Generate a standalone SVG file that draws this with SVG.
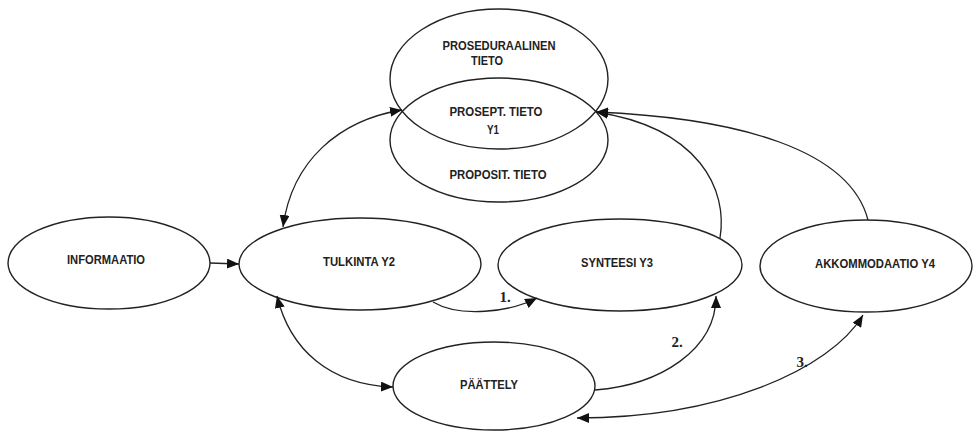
<svg xmlns="http://www.w3.org/2000/svg" width="973" height="431" viewBox="0 0 973 431">
<style>
.n{fill:none;stroke:#222;stroke-width:1.4}
.c{fill:none;stroke:#222;stroke-width:1.3}
.t{font-family:"Liberation Sans",Arial,sans-serif;font-weight:bold;font-size:13px;fill:#222;text-anchor:middle}
.l{font-family:"Liberation Serif","Times New Roman",serif;font-weight:bold;font-size:15px;fill:#222;text-anchor:middle}
</style>
<defs>
<marker id="a" viewBox="0 0 12 10" refX="12" refY="5" markerWidth="12" markerHeight="10" markerUnits="userSpaceOnUse" orient="auto-start-reverse">
<path d="M0,0 L12,5 L0,10 Z" fill="#111"/>
</marker>
</defs>
<rect width="973" height="431" fill="#fff"/>
<g id="proseduraalinen">
<ellipse class="n" cx="499" cy="79" rx="109" ry="70"/>
<text class="t" x="499" y="50" textLength="113" lengthAdjust="spacingAndGlyphs">PROSEDURAALINEN</text>
<text class="t" x="487" y="65" textLength="32" lengthAdjust="spacingAndGlyphs">TIETO</text>
</g>
<g id="propositionaalinen">
<ellipse class="n" cx="499" cy="140" rx="109" ry="62"/>
<text class="t" x="498" y="179" textLength="97" lengthAdjust="spacingAndGlyphs">PROPOSIT. TIETO</text>
</g>
<g id="prosept">
<text class="t" x="496" y="116" textLength="93" lengthAdjust="spacingAndGlyphs">PROSEPT. TIETO</text>
<text class="t" x="493" y="134" textLength="12" lengthAdjust="spacingAndGlyphs">Y1</text>
</g>
<g id="informaatio">
<ellipse class="n" cx="109" cy="263" rx="101" ry="46"/>
<text class="t" x="106" y="264" textLength="78" lengthAdjust="spacingAndGlyphs">INFORMAATIO</text>
</g>
<g id="tulkinta">
<ellipse class="n" cx="360" cy="264" rx="121" ry="46"/>
<text class="t" x="359" y="266" textLength="72" lengthAdjust="spacingAndGlyphs">TULKINTA Y2</text>
</g>
<g id="synteesi">
<ellipse class="n" cx="620" cy="265" rx="122" ry="46"/>
<text class="t" x="617" y="267" textLength="72" lengthAdjust="spacingAndGlyphs">SYNTEESI Y3</text>
</g>
<g id="akkommodaatio">
<ellipse class="n" cx="866" cy="266" rx="106" ry="46"/>
<text class="t" x="875" y="268" textLength="120" lengthAdjust="spacingAndGlyphs">AKKOMMODAATIO Y4</text>
</g>
<g id="paattely">
<ellipse class="n" cx="494" cy="386" rx="101" ry="44"/>
<text class="t" x="489" y="389" textLength="58" lengthAdjust="spacingAndGlyphs">PÄÄTTELY</text>
</g>
<g id="connectors">
<path class="c" d="M210,263 L239,264" marker-end="url(#a)"/>
<path class="c" d="M402,110 C340,120 292,160 283,227" marker-start="url(#a)" marker-end="url(#a)"/>
<path class="c" d="M277,296 C290,350 330,385 393,387" marker-start="url(#a)" marker-end="url(#a)"/>
<path class="c" d="M433,302 C460,318 510,312 537,298" marker-end="url(#a)"/>
<path class="c" d="M595,390 C660,385 716,350 716,296" marker-end="url(#a)"/>
<path class="c" d="M863,315 C830,370 720,418 577,418" marker-start="url(#a)" marker-end="url(#a)"/>
<path class="c" d="M720,238 C728,190 700,128 596,112" marker-end="url(#a)"/>
<path class="c" d="M868,220 C850,150 740,118 596,112" marker-end="url(#a)"/>
<text class="l" x="505" y="302">1.</text>
<text class="l" x="677" y="347">2.</text>
<text class="l" x="802" y="367">3.</text>
</g>
</svg>
